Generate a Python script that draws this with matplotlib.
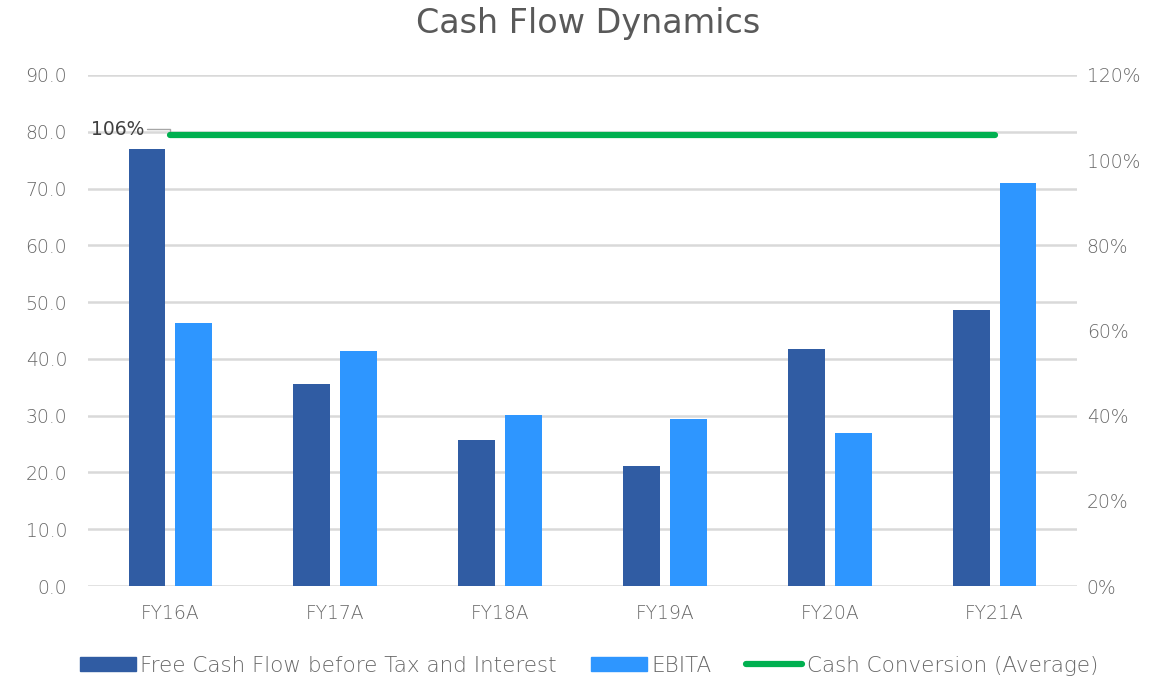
import matplotlib
matplotlib.use("Agg")
import matplotlib.pyplot as plt
import numpy as np
from matplotlib.patches import Patch
from matplotlib.lines import Line2D

categories = ["FY16A", "FY17A", "FY18A", "FY19A", "FY20A", "FY21A"]
fcf = [77.0, 35.6, 25.7, 21.1, 41.7, 48.6]
ebita = [46.3, 41.4, 30.1, 29.4, 26.9, 71.0]
cash_conv = [106, 106, 106, 106, 106, 106]
left_ticks = [0, 10, 20, 30, 40, 50, 60, 70, 80, 90]
right_ticks = [0, 20, 40, 60, 80, 100, 120]

dark = "#305CA3"
light = "#2E96FF"
green = "#00B050"
grid_c = "#D9D9D9"
txt = "#686868"

plt.rcParams['font.family'] = ['DejaVu Sans']
plt.rcParams['font.weight'] = 'light'

fig = plt.figure(figsize=(11.62, 6.82), dpi=100)
ax = fig.add_axes([88/1162, 96/682, (1077-88)/1162, (586-75)/682])
x = np.arange(len(categories))
w = 0.224
off = 0.142
ax.bar(x - off, fcf, w, color=dark, zorder=3)
ax.bar(x + off, ebita, w, color=light, zorder=3)
ax.set_xlim(-0.5, 5.5)
ax.set_ylim(0, 90)
ax.set_yticks(left_ticks)
ax.set_yticklabels([f"{v:.1f}" for v in left_ticks])
ax.set_xticks(x)
ax.set_xticklabels(categories)
ax.grid(axis='y', color=grid_c, linewidth=1.8, zorder=0)
for s in ax.spines.values():
    s.set_visible(False)
ax.tick_params(axis='both', length=0, labelsize=13.5, colors=txt)
ax.tick_params(axis='y', pad=15)
ax.tick_params(axis='x', pad=13)

ax2 = ax.twinx()
ax2.set_ylim(0, 120)
ax2.set_yticks(right_ticks)
ax2.set_yticklabels([f"{v}%" for v in right_ticks])
for s in ax2.spines.values():
    s.set_visible(False)
ax2.tick_params(axis='y', length=0, labelsize=13.5, colors=txt, pad=7)
ax2.plot(x, cash_conv, color=green, linewidth=4.5, solid_capstyle='round', zorder=4)
ax2.annotate(f"{cash_conv[0]}%", xy=(x[0], cash_conv[0]), xytext=(-0.48, cash_conv[0] + 1.3),
             fontsize=13.5, fontweight='normal', color="#404040", va='center', ha='left',
             arrowprops=dict(arrowstyle='-', color='#A6A6A6', lw=1, shrinkA=0, shrinkB=2,
                             connectionstyle="angle,angleA=0,angleB=90,rad=0"))

fig.text(0.506, 1 - 23/682, "Cash Flow Dynamics", ha='center', va='center', fontsize=24,
         fontweight='normal', color="#595959")

handles = [Patch(color=dark, label="Free Cash Flow before Tax and Interest"),
           Patch(color=light, label="EBITA"),
           Line2D([0], [0], color=green, lw=4.5, solid_capstyle='round', label="Cash Conversion (Average)")]
fig.legend(handles=handles, loc='center', bbox_to_anchor=(0.507, 0.024), ncol=3, frameon=False,
           fontsize=15.5, handlelength=2.6, handleheight=0.6, handletextpad=0.2, columnspacing=1.6,
           labelcolor=txt)

fig.savefig("out.png", dpi=100)
